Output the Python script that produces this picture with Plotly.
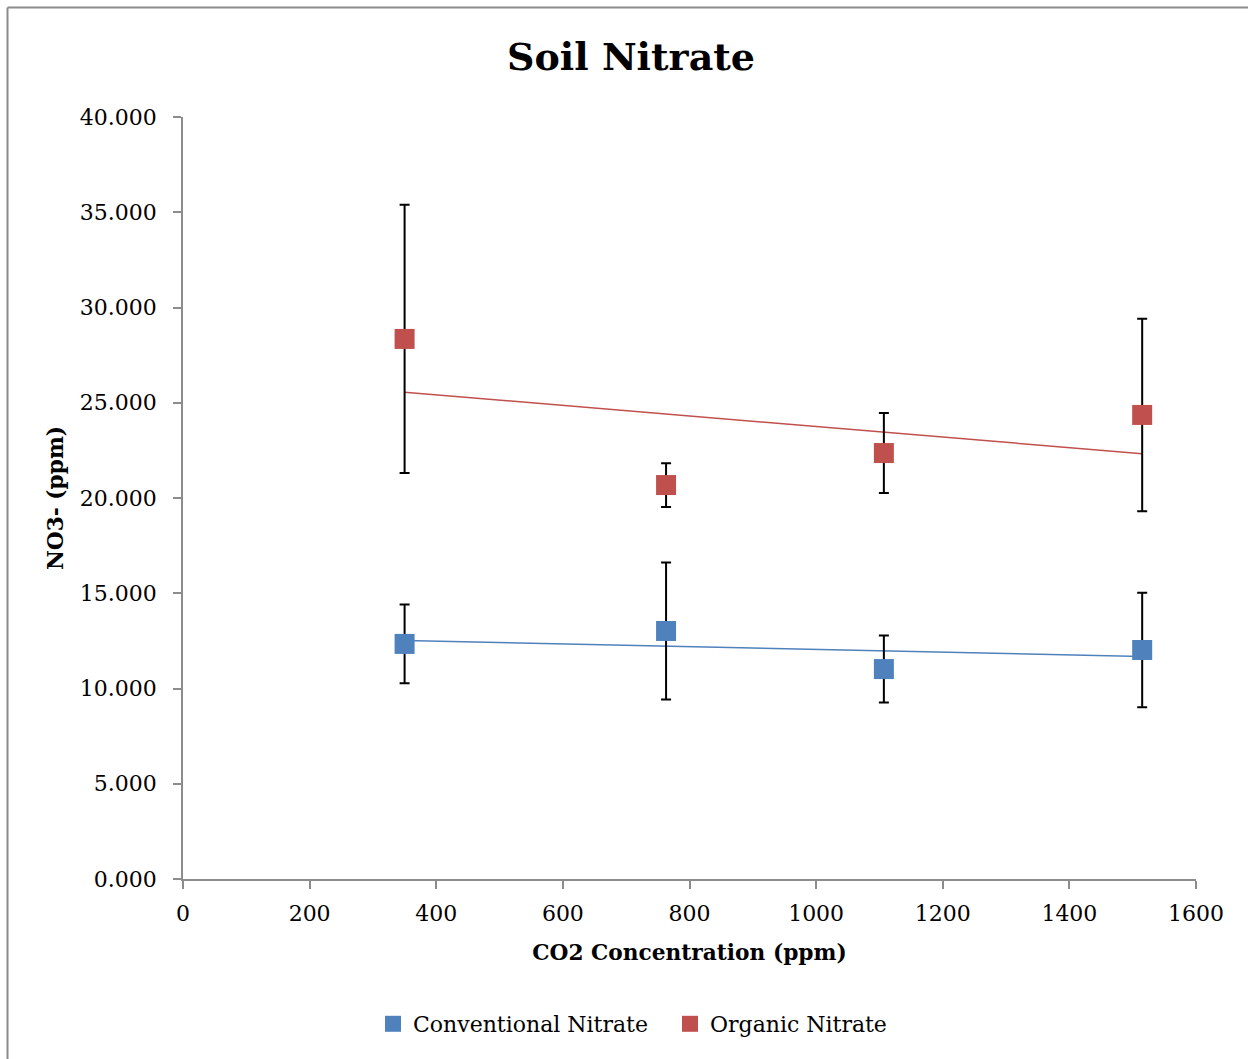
import numpy as np
import plotly.graph_objects as go

# CO2 treatment levels (ppm)
co2 = [350, 763, 1107, 1515]

# Soil nitrate means and error bar half-widths (ppm)
conventional = [12.34, 13.02, 11.02, 12.02]
conventional_err = [2.07, 3.6, 1.76, 3.0]
organic = [28.35, 20.68, 22.36, 24.36]
organic_err = [7.04, 1.15, 2.1, 5.05]

y_ticks = [0, 5, 10, 15, 20, 25, 30, 35, 40]
x_ticks = [0, 200, 400, 600, 800, 1000, 1200, 1400, 1600]

BLUE = "#4F81BD"
RED = "#C0504D"
FONT = "DejaVu Serif"
AXIS_GREY = "#8c8c8c"

W, H = 1248, 1059
L, R, T, B = 183, 52, 117, 180

fig = go.Figure()


def linear_fit(x, y):
    slope, intercept = np.polyfit(x, y, 1)
    xs = np.array([min(x), max(x)])
    return xs, slope * xs + intercept


for name, vals, errs, color in [
    ("Conventional Nitrate", conventional, conventional_err, BLUE),
    ("Organic Nitrate", organic, organic_err, RED),
]:
    fx, fy = linear_fit(co2, vals)
    fig.add_trace(go.Scatter(
        x=fx, y=fy, mode="lines", showlegend=False, hoverinfo="skip",
        line=dict(color=color, width=1.5),
    ))
    fig.add_trace(go.Scatter(
        x=co2, y=vals, name=name, mode="markers",
        marker=dict(symbol="square", size=20, color=color),
        error_y=dict(type="data", array=errs, visible=True,
                     color="black", thickness=2, width=5),
    ))

pw = W - L - R
ph = H - T - B
# outer chart frame (left and top edges)
frame_x = (7.5 - L) / pw
frame_y = (H - B - 7.5) / ph
fig.add_shape(type="line", xref="paper", yref="paper",
              x0=frame_x, x1=frame_x, y0=-1, y1=frame_y,
              line=dict(color=AXIS_GREY, width=2))
fig.add_shape(type="line", xref="paper", yref="paper",
              x0=frame_x, x1=2, y0=frame_y, y1=frame_y,
              line=dict(color=AXIS_GREY, width=2))

fig.update_layout(
    width=W, height=H,
    margin=dict(l=L, r=R, t=T, b=B),
    paper_bgcolor="white", plot_bgcolor="white",
    font=dict(family=FONT, color="black"),
    title=dict(text="<b>Soil Nitrate</b>", x=(631 - L) / pw, xref="paper",
               xanchor="center", y=1 - 57 / H, yanchor="middle",
               font=dict(family=FONT, size=38, color="black")),
    showlegend=True,
    legend=dict(orientation="h", x=(373 - L) / pw, xanchor="left",
                y=-(1024 - (H - B)) / ph, yanchor="middle",
                font=dict(family=FONT, size=22, color="black"),
                itemwidth=30, entrywidth=252, entrywidthmode="pixels",
                tracegroupgap=0),
    xaxis=dict(range=[0, 1600], tickvals=x_ticks, ticks="outside",
               ticklen=8, tickcolor=AXIS_GREY, tickwidth=1.5,
               ticklabelstandoff=6,
               showline=True, linecolor=AXIS_GREY, linewidth=1.5,
               showgrid=False, zeroline=False,
               tickfont=dict(family=FONT, size=22, color="black"),
               title=dict(text="<b>CO2 Concentration (ppm)</b>", standoff=20,
                          font=dict(family=FONT, size=21.7, color="black"))),
    yaxis=dict(range=[0, 40], tickvals=y_ticks, tickformat=".3f",
               ticks="outside", ticklen=8, tickcolor=AXIS_GREY, tickwidth=1.5,
               ticklabelstandoff=12,
               showline=True, linecolor=AXIS_GREY, linewidth=1.5,
               showgrid=False, zeroline=False,
               tickfont=dict(family=FONT, size=22, color="black"),
               title=dict(text="<b>NO3- (ppm)</b>", standoff=10,
                          font=dict(family=FONT, size=21.7, color="black"))),
)

fig.write_html("out.html")
